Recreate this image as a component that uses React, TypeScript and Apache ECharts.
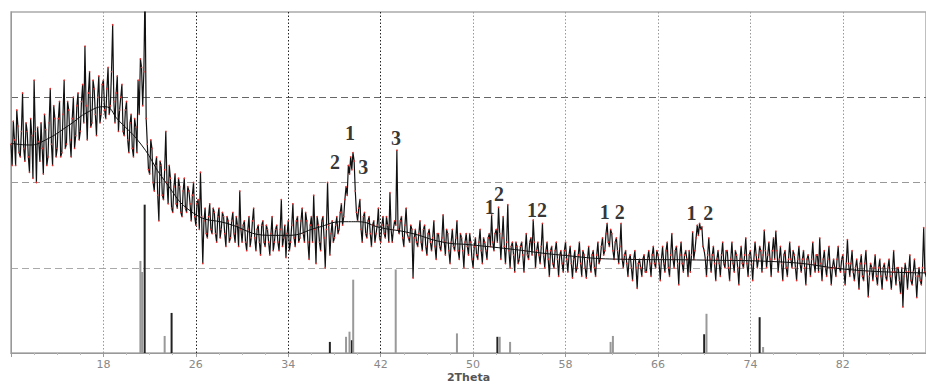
import React, { useEffect, useRef } from "react";
import * as echarts from "echarts";

// Scan grid: 2Theta from 10.0 in steps of 0.1 degrees
const scanStart = 10;
const scanStep = 0.1;

const counts10to20 = [
  2.45, 2.2, 2.72, 2.5, 2.2, 2.85, 2.66, 2.35, 2.3, 2.6,
  3.05, 2.4, 2.25, 2.7, 2.6, 2.3, 2.12, 2.75, 2.55, 2.05,
  3.2, 2.6, 2.0, 2.65, 2.48, 2.25, 2.7, 2.4, 2.1, 2.8,
  2.62, 2.2, 2.3, 2.7, 3.1, 2.45, 2.2, 2.9, 2.75, 2.3,
  2.4, 2.75, 2.95, 2.3, 2.35, 2.8, 3.2, 2.4, 2.45, 2.95,
  2.85, 2.5, 2.3, 2.75, 3.0, 2.4, 2.55, 2.9, 3.05, 2.5,
  2.6, 2.95, 3.15, 2.7, 3.6, 2.9, 2.5, 3.05, 3.3, 2.65,
  2.7, 3.2, 3.1, 2.8, 2.55, 3.0, 3.25, 2.7, 2.8, 3.15,
  3.2, 2.85, 2.75, 3.1, 3.35, 2.8, 2.9, 3.3, 3.85, 2.95,
  2.7, 3.05, 3.25, 2.6, 2.85, 3.0, 3.15, 2.6, 2.55, 2.85,
];
const counts20to30 = [
  2.95, 2.5, 2.35, 2.7, 2.8, 2.4, 2.3, 2.75, 2.65, 2.35,
  3.2, 2.8, 3.45, 3.35, 2.9, 3.3, 4.3, 2.75, 2.45, 2.15,
  2.1, 2.5, 2.4, 2.0, 1.9, 2.2, 2.3, 1.85, 1.55, 2.25,
  2.2, 1.85, 1.8, 2.15, 2.6, 2.0, 1.75, 2.2, 2.05, 1.7,
  1.65, 1.95, 2.1, 1.75, 1.7, 2.05, 1.95, 1.65, 1.6, 1.9,
  2.05, 1.7, 1.65, 1.95, 1.9, 1.75, 1.55, 1.85, 2.0, 1.6,
  1.5, 1.75, 1.8, 1.45, 2.12, 1.6, 1.05, 1.55, 1.7, 1.4,
  1.35, 1.6, 1.75, 1.45, 1.4, 1.7, 1.65, 1.4, 1.3, 1.6,
  1.7, 1.35, 1.45, 1.65, 1.6, 1.4, 1.25, 1.6, 1.55, 1.3,
  1.35, 1.55, 1.65, 1.4, 1.3, 1.6, 1.5, 1.25, 1.9, 1.45,
];
const counts30to40 = [
  1.3, 1.5, 1.55, 1.3, 1.2, 1.45, 1.6, 1.25, 1.35, 1.55,
  1.7, 1.35, 1.2, 1.45, 1.5, 1.3, 1.15, 1.5, 1.55, 1.3,
  1.25, 1.5, 1.45, 1.3, 1.15, 1.4, 1.6, 1.2, 1.3, 1.45,
  1.5, 1.3, 1.2, 1.45, 1.8, 1.25, 1.35, 1.5, 1.12, 1.4,
  1.55, 1.2, 1.3, 1.5, 1.75, 1.35, 1.25, 1.55, 1.6, 1.3,
  1.35, 1.55, 1.7, 1.4, 1.3, 1.65, 1.55, 1.3, 1.1, 1.5,
  1.6, 1.3, 1.85, 1.45, 1.05, 1.6, 1.5, 1.3, 1.2, 1.55,
  1.6, 1.35, 1.0, 1.45, 2.0, 1.5, 1.15, 1.4, 1.55, 1.3,
  1.35, 1.5, 1.6, 1.4, 1.45, 1.65, 1.75, 1.5, 1.6, 1.8,
  1.95, 1.85, 2.2, 2.1, 2.3, 2.15, 2.35, 2.25, 1.9, 1.65,
];
const counts40to50 = [
  1.55, 1.7, 1.8, 1.45, 1.3, 1.6, 1.65, 1.4, 1.35, 1.55,
  1.6, 1.4, 1.25, 1.5, 1.55, 1.3, 1.4, 1.5, 1.7, 1.35,
  1.3, 1.5, 1.6, 1.4, 1.35, 1.6, 1.5, 1.3, 1.88, 1.45,
  1.3, 1.45, 1.55, 1.5, 2.38, 1.45, 1.4, 1.55, 1.6, 1.35,
  1.25, 1.5, 1.7, 1.4, 1.35, 1.3, 1.5, 1.45, 0.88, 1.35,
  1.45, 1.3, 1.25, 1.4, 1.55, 1.3, 1.2, 1.45, 1.5, 1.25,
  1.15, 1.4, 1.45, 1.3, 1.2, 1.35, 1.55, 1.25, 1.1, 1.4,
  1.4, 1.25, 1.2, 1.35, 1.62, 1.3, 1.15, 1.45, 1.4, 1.2,
  1.05, 1.3, 1.45, 1.25, 1.2, 1.35, 1.55, 1.2, 1.1, 1.4,
  1.35, 1.2, 1.0, 1.3, 1.4, 1.25, 1.15, 1.4, 1.3, 1.1,
];
const counts50to60 = [
  1.0, 1.25, 1.35, 1.15, 1.1, 1.3, 1.45, 1.2, 1.05, 1.35,
  1.3, 1.2, 1.1, 1.35, 1.4, 1.25, 1.62, 1.3, 1.2, 1.4,
  1.45, 1.3, 1.71, 1.4, 1.1, 1.35, 1.6, 1.25, 1.05, 1.3,
  1.74, 1.2, 1.0, 1.25, 1.3, 1.15, 0.95, 1.3, 1.25, 1.05,
  1.1, 1.25, 1.3, 1.15, 0.95, 1.2, 1.4, 1.15, 1.1, 1.3,
  1.35, 1.15, 1.56, 1.3, 1.0, 1.2, 1.3, 1.15, 1.05, 1.25,
  1.52, 1.15, 1.0, 1.2, 1.3, 1.1, 0.9, 1.2, 1.25, 1.05,
  1.0, 1.2, 1.3, 1.1, 0.9, 1.15, 1.2, 1.05, 0.95, 1.2,
  1.3, 1.1, 0.95, 1.15, 1.25, 1.05, 0.88, 1.1, 1.2, 0.95,
  1.0, 1.15, 1.3, 1.05, 0.9, 1.2, 1.15, 1.0, 0.88, 1.1,
];
const counts60to70 = [
  1.25, 1.05, 0.95, 1.15, 1.2, 1.0, 0.9, 1.15, 1.3, 1.05,
  1.1, 1.25, 1.35, 1.15, 1.2, 1.4, 1.52, 1.3, 1.25, 1.45,
  1.4, 1.2, 1.1, 1.3, 1.35, 1.2, 1.05, 1.25, 1.52, 1.1,
  1.0, 1.15, 1.2, 1.05, 0.9, 1.1, 1.15, 1.0, 0.85, 1.1,
  1.2, 1.0, 0.76, 1.05, 1.1, 1.0, 0.9, 1.1, 1.15, 0.95,
  0.95, 1.1, 1.2, 1.05, 0.9, 1.15, 1.25, 1.05, 1.0, 1.2,
  1.15, 1.05, 0.85, 1.1, 1.25, 1.05, 0.95, 1.2, 1.3, 1.0,
  0.9, 1.15, 1.4, 1.1, 1.0, 1.2, 1.25, 1.05, 0.8, 1.15,
  1.3, 1.05, 0.95, 1.15, 1.2, 1.1, 0.9, 1.2, 0.95, 1.15,
  1.42, 1.1, 1.2, 1.35, 1.5, 1.38, 1.52, 1.45, 1.48, 1.25,
];
const counts70to80 = [
  1.2, 1.1, 0.9, 1.15, 1.35, 1.1, 0.95, 1.15, 1.25, 1.05,
  0.85, 1.1, 1.2, 1.05, 0.9, 1.15, 1.3, 1.05, 1.0, 1.2,
  1.2, 1.0, 0.85, 1.1, 1.3, 1.05, 0.95, 1.2, 1.15, 1.0,
  0.8, 1.1, 1.25, 1.05, 1.0, 1.15, 1.35, 1.05, 0.9, 1.15,
  1.2, 1.05, 0.85, 1.1, 1.3, 1.15, 1.0, 1.1, 1.25, 1.2,
  0.95, 1.15, 1.44, 1.2, 1.0, 1.15, 1.3, 1.1, 0.9, 1.2,
  1.35, 1.1, 1.43, 1.2, 0.95, 1.1, 1.25, 1.05, 0.85, 1.15,
  1.2, 1.0, 0.9, 1.1, 1.3, 1.1, 1.0, 1.2, 1.15, 1.0,
  0.85, 1.1, 1.25, 1.05, 0.95, 1.1, 1.2, 1.0, 0.8, 1.1,
  1.15, 1.05, 0.9, 1.1, 1.3, 1.05, 0.95, 1.15, 1.15, 0.95,
];
const counts80to89 = [
  1.35, 1.05, 0.85, 1.1, 1.2, 1.0, 0.9, 1.1, 1.25, 1.0,
  0.8, 1.0, 1.1, 1.0, 0.9, 1.1, 1.25, 1.0, 0.95, 1.1,
  1.15, 0.95, 0.8, 1.05, 1.33, 1.05, 0.9, 1.05, 1.2, 0.95,
  0.85, 1.0, 1.1, 0.95, 0.75, 1.05, 1.15, 0.9, 0.85, 1.05,
  1.2, 0.95, 0.66, 0.9, 1.05, 1.0, 0.85, 1.0, 1.15, 0.9,
  0.8, 1.0, 1.1, 0.9, 0.75, 1.0, 1.05, 0.9, 0.85, 1.0,
  1.1, 0.9, 0.75, 0.95, 1.2, 0.95, 0.8, 1.0, 1.0, 0.85,
  0.7, 1.0, 0.54, 0.9, 1.05, 0.95, 0.75, 0.95, 1.15, 0.85,
  0.8, 0.95, 1.1, 0.9, 0.65, 0.9, 1.0, 0.85, 0.8, 1.0,
  1.47, 0.95, 0.9,
];

// Smooth background (fitted) curve: [2Theta, intensity]
const backgroundFit = [
  [10, 2.46], [11.6, 2.44], [13, 2.5], [15, 2.67], [16.7, 2.83], [18.1, 2.89],
  [19.3, 2.73], [21.3, 2.44], [23.3, 2.02], [25.8, 1.64], [28.7, 1.52],
  [32.4, 1.38], [34, 1.38], [36.5, 1.47], [38.7, 1.54], [40, 1.54], [42, 1.47],
  [44.5, 1.41], [47.4, 1.3], [49.7, 1.27], [53.2, 1.22], [57.5, 1.15],
  [62.7, 1.1], [70, 1.09], [76.4, 1.07], [83.3, 0.97], [89.2, 0.94],
];

// Reference stick patterns
const sticksDark = [
  [21.57, 1.74], [23.9, 0.47], [37.6, 0.13], [39.5, 0.15], [52.1, 0.19],
  [70.0, 0.22], [74.8, 0.42],
];
const sticksLight = [
  [21.2, 1.08], [21.35, 0.95], [23.3, 0.2], [39.0, 0.19], [39.3, 0.25],
  [39.62, 0.86], [43.3, 0.98], [48.6, 0.23], [52.3, 0.19], [53.2, 0.13],
  [61.9, 0.13], [62.1, 0.2], [70.2, 0.46], [75.1, 0.07],
];

// Peak markers: [2Theta, height, text]
const peakLabels = [
  [38.05, 2.24, "2"], [39.35, 2.58, "1"], [40.5, 2.18, "3"], [43.33, 2.52, "3"],
  [51.45, 1.71, "1"], [52.25, 1.86, "2"], [55.1, 1.68, "1"], [55.97, 1.68, "2"],
  [61.4, 1.65, "1"], [62.7, 1.65, "2"], [68.9, 1.64, "1"], [70.35, 1.64, "2"],
];

const xMin = 10;
const xMax = 89.2;
const xInterval = 8;

export default function App() {
  const ref = useRef<HTMLDivElement>(null);
  useEffect(() => {
    if (!ref.current) return;
    const chart = echarts.init(ref.current, null, { renderer: "svg" });
    const intensity = [
      ...counts10to20, ...counts20to30, ...counts30to40, ...counts40to50,
      ...counts50to60, ...counts60to70, ...counts70to80, ...counts80to89,
    ];
    const pattern = intensity.map((v, i) => [+(scanStart + i * scanStep).toFixed(2), v]);

    chart.setOption({
      animation: false,
      backgroundColor: "#fff",
      grid: {
        left: 11, top: 12, right: 0, bottom: 30,
        outerBoundsMode: "none",
        containLabel: false,
        show: true, borderColor: "#aaa", borderWidth: 1.5,
      },
      xAxis: {
        type: "value", min: xMin, max: xMax, interval: xInterval,
        axisLine: { show: true, lineStyle: { color: "#999", width: 1 } },
        axisTick: { show: true, length: 4, lineStyle: { color: "#999" } },
        minorTick: { show: true, splitNumber: 4, length: 2, lineStyle: { color: "#bbb" } },
        axisLabel: {
          color: "#888", fontSize: 11, margin: 5, lineHeight: 12, fontFamily: "DejaVu Sans",
          formatter: (v: number) => (v === xMin || v > 88 ? "" : String(v)),
        },
        splitLine: {
          show: true,
          lineStyle: {
            type: [1.5, 2],
            width: 1,
            color: ["rgba(0,0,0,0)", "#999", "#222", "#222", "#222", "#999", "#999", "#999", "#999", "#999", "rgba(0,0,0,0)"],
          },
        },
        name: "2Theta", nameLocation: "middle", nameGap: 18,
        nameMoveOverlap: false,
        nameTextStyle: {
          color: "#555", fontSize: 11, fontWeight: "bold", fontFamily: "DejaVu Sans",
          verticalAlign: "top", lineHeight: 12,
        },
      },
      yAxis: {
        type: "value", min: 0, max: 4, interval: 1,
        axisLine: { show: true, lineStyle: { color: "#999" } },
        axisTick: { show: false },
        axisLabel: { show: false },
        splitLine: {
          show: true,
          lineStyle: {
            type: [7, 4], width: 1,
            color: ["rgba(0,0,0,0)", "#aaa", "#999", "#666", "rgba(0,0,0,0)"],
          },
        },
      },
      series: [
        {
          type: "bar", data: sticksDark, barWidth: 2, barGap: "-100%",
          itemStyle: { color: "#222" }, z: 2,
        },
        {
          type: "bar", data: sticksLight, barWidth: 2, barGap: "-100%",
          itemStyle: { color: "#999" }, z: 2,
        },
        {
          type: "line", data: pattern,
          lineStyle: { color: "#111", width: 1.2 },
          symbol: "circle", symbolSize: 1.6, showSymbol: true, showAllSymbol: true,
          itemStyle: { color: "#e53030" },
          z: 3,
        },
        {
          type: "line", data: backgroundFit, smooth: true, symbol: "none",
          lineStyle: { color: "#111", width: 1 }, z: 4,
        },
        {
          type: "scatter", data: peakLabels, symbolSize: 1,
          itemStyle: { color: "rgba(0,0,0,0)" },
          label: {
            show: true, position: "inside",
            formatter: (p: any) => p.data[2],
            fontFamily: "Liberation Serif", fontSize: 20, fontWeight: "bold", color: "#000",
          },
          z: 5,
        },
      ],
    });
    return () => chart.dispose();
  }, []);
  return (
    <div
      ref={ref}
      style={{ position: "absolute", left: 0, top: 0, width: 926, height: 383, background: "#fff" }}
    />
  );
}
